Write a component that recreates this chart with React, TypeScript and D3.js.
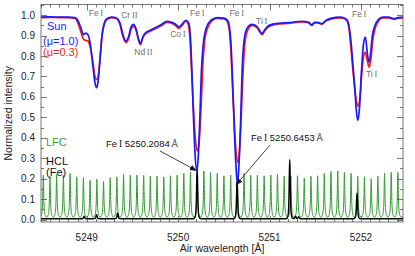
import { Component } from 'react';
import * as d3 from 'd3';

// solar spectrum, disk centre (mu = 1.0): air wavelength [A] / normalized intensity
const sun_wave_mu10 = [
    5248.50, 5248.60, 5248.70, 5248.80, 5248.87, 5248.90, 5248.935, 5248.965, 5248.99, 5249.012,
    5249.035, 5249.068, 5249.09, 5249.107, 5249.123, 5249.145, 5249.167, 5249.19, 5249.22, 5249.275,
    5249.32, 5249.363, 5249.396, 5249.429, 5249.462, 5249.484, 5249.511, 5249.538, 5249.566, 5249.587,
    5249.615, 5249.648, 5249.691, 5249.757, 5249.822, 5249.877, 5249.921, 5249.964, 5250.008, 5250.041,
    5250.085, 5250.115, 5250.135, 5250.152, 5250.168, 5250.184, 5250.205, 5250.222, 5250.238, 5250.254,
    5250.276, 5250.31, 5250.36, 5250.43, 5250.50, 5250.54, 5250.565, 5250.582, 5250.598, 5250.614,
    5250.632, 5250.648, 5250.665, 5250.682, 5250.698, 5250.72, 5250.753, 5250.81, 5250.86, 5250.92,
    5250.95, 5250.995, 5251.10, 5251.21, 5251.35, 5251.43, 5251.46, 5251.495, 5251.525, 5251.57,
    5251.62, 5251.68, 5251.77, 5251.82, 5251.85, 5251.872, 5251.89, 5251.91, 5251.93, 5251.95,
    5251.966, 5251.985, 5252.005, 5252.028, 5252.049, 5252.068, 5252.088, 5252.105, 5252.125, 5252.15,
    5252.19, 5252.24, 5252.30, 5252.355, 5252.41, 5252.46
];
const sun_flux_mu10 = [
    0.990, 0.991, 0.990, 0.990, 0.988, 0.976, 0.940, 0.905, 0.912, 0.905,
    0.870, 0.750, 0.670, 0.645, 0.670, 0.780, 0.900, 0.958, 0.982, 0.990,
    0.987, 0.962, 0.905, 0.873, 0.900, 0.940, 0.955, 0.935, 0.885, 0.860,
    0.895, 0.915, 0.925, 0.940, 0.955, 0.970, 0.966, 0.958, 0.943, 0.955,
    0.975, 0.962, 0.890, 0.710, 0.500, 0.330, 0.240, 0.320, 0.500, 0.720,
    0.860, 0.940, 0.975, 0.988, 0.985, 0.975, 0.930, 0.830, 0.650, 0.450,
    0.270, 0.175, 0.260, 0.450, 0.700, 0.870, 0.935, 0.955, 0.945, 0.910,
    0.930, 0.950, 0.960, 0.963, 0.970, 0.965, 0.952, 0.965, 0.965, 0.958,
    0.975, 0.985, 0.990, 0.985, 0.975, 0.940, 0.876, 0.770, 0.660, 0.530,
    0.485, 0.550, 0.720, 0.860, 0.893, 0.820, 0.770, 0.810, 0.900, 0.945,
    0.978, 0.990, 0.990, 0.983, 0.988, 0.990
];

// solar spectrum towards the limb (mu = 0.3)
const sun_wave_mu03 = [
    5248.50, 5248.60, 5248.70, 5248.80, 5248.87, 5248.90, 5248.935, 5248.965, 5248.99, 5249.012,
    5249.035, 5249.068, 5249.09, 5249.107, 5249.125, 5249.148, 5249.17, 5249.195, 5249.22, 5249.275,
    5249.32, 5249.363, 5249.396, 5249.429, 5249.462, 5249.484, 5249.511, 5249.538, 5249.566, 5249.587,
    5249.615, 5249.648, 5249.691, 5249.757, 5249.822, 5249.877, 5249.921, 5249.964, 5250.008, 5250.041,
    5250.085, 5250.112, 5250.13, 5250.148, 5250.168, 5250.19, 5250.21, 5250.232, 5250.252, 5250.27,
    5250.292, 5250.325, 5250.37, 5250.43, 5250.50, 5250.535, 5250.56, 5250.578, 5250.596, 5250.616,
    5250.634, 5250.652, 5250.67, 5250.69, 5250.71, 5250.732, 5250.765, 5250.81, 5250.86, 5250.92,
    5250.95, 5250.995, 5251.10, 5251.21, 5251.35, 5251.43, 5251.46, 5251.495, 5251.525, 5251.57,
    5251.62, 5251.68, 5251.77, 5251.82, 5251.85, 5251.87, 5251.888, 5251.908, 5251.93, 5251.95,
    5251.968, 5251.99, 5252.01, 5252.03, 5252.048, 5252.07, 5252.09, 5252.11, 5252.13, 5252.155,
    5252.19, 5252.24, 5252.30, 5252.355, 5252.41, 5252.46
];
const sun_flux_mu03 = [
    0.988, 0.989, 0.988, 0.988, 0.985, 0.965, 0.920, 0.882, 0.876, 0.874,
    0.850, 0.770, 0.700, 0.685, 0.700, 0.800, 0.905, 0.958, 0.978, 0.988,
    0.985, 0.955, 0.895, 0.865, 0.890, 0.930, 0.945, 0.930, 0.880, 0.855,
    0.890, 0.910, 0.920, 0.935, 0.950, 0.965, 0.962, 0.952, 0.935, 0.948,
    0.970, 0.955, 0.880, 0.720, 0.540, 0.390, 0.335, 0.390, 0.560, 0.750,
    0.880, 0.940, 0.972, 0.984, 0.982, 0.970, 0.925, 0.820, 0.640, 0.460,
    0.330, 0.280, 0.330, 0.500, 0.720, 0.870, 0.930, 0.950, 0.940, 0.905,
    0.925, 0.945, 0.957, 0.960, 0.967, 0.962, 0.950, 0.962, 0.962, 0.955,
    0.972, 0.982, 0.987, 0.982, 0.970, 0.930, 0.850, 0.750, 0.650, 0.580,
    0.555, 0.600, 0.720, 0.800, 0.818, 0.775, 0.745, 0.790, 0.880, 0.935,
    0.970, 0.986, 0.987, 0.980, 0.985, 0.987
];

// laser frequency comb modes
const lfc_wave = [
    5248.525, 5248.598, 5248.671, 5248.745, 5248.818, 5248.891, 5248.964, 5249.037, 5249.111, 5249.184,
    5249.257, 5249.330, 5249.403, 5249.477, 5249.550, 5249.623, 5249.696, 5249.769, 5249.843, 5249.916,
    5249.989, 5250.062, 5250.135, 5250.209, 5250.282, 5250.355, 5250.428, 5250.501, 5250.575, 5250.648,
    5250.721, 5250.794, 5250.867, 5250.941, 5251.014, 5251.087, 5251.160, 5251.233, 5251.306, 5251.380,
    5251.453, 5251.526, 5251.599, 5251.672, 5251.746, 5251.819, 5251.892, 5251.965, 5252.038, 5252.112,
    5252.185, 5252.258, 5252.331, 5252.404
];
const lfc_peak = [
    0.205, 0.200, 0.208, 0.205, 0.213, 0.197, 0.193, 0.180, 0.185, 0.175,
    0.193, 0.197, 0.208, 0.205, 0.205, 0.205, 0.200, 0.200, 0.197, 0.202,
    0.205, 0.214, 0.219, 0.210, 0.226, 0.219, 0.214, 0.202, 0.205, 0.200,
    0.214, 0.205, 0.205, 0.202, 0.205, 0.209, 0.200, 0.200, 0.202, 0.191,
    0.200, 0.202, 0.214, 0.223, 0.226, 0.219, 0.214, 0.200, 0.197, 0.188,
    0.200, 0.214, 0.219, 0.219
];

// hollow cathode lamp (Fe) emission lines
const hcl_wave = [5248.972, 5249.108, 5249.338, 5250.208, 5250.645, 5251.221, 5251.285, 5251.318, 5251.957];
const hcl_peak = [0.012, 0.020, 0.028, 0.245, 0.180, 0.290, 0.012, 0.010, 0.125];

// identified solar lines
const line_ion = ["Fe", "Cr", "Nd", "Co", "Fe", "Fe", "Ti", "Fe", "Ti"];
const line_stage = ["I", "II", "II", "I", "I", "I", "I", "I", "I"];
const line_wave = [5249.101, 5249.467, 5249.620, 5249.997, 5250.210, 5250.642, 5250.915, 5251.981, 5252.117];

const x_ticks = [5249, 5250, 5251, 5252];
const y_ticks = [0.0, 0.1, 0.2, 0.3, 0.4, 0.5, 0.6, 0.7, 0.8, 0.9, 1.0];


export default class App extends Component {

    svg_node: SVGSVGElement | null = null;

    componentDidMount() {
        this.renderSpectrum();
    }

    renderSpectrum() {

        // constants
        const width = 415;
        const height = 256;
        const left = 41;
        const right = 403;
        const top = 4.5;
        const bottom = 222;
        const font = "'Liberation Sans', Arial, sans-serif";
        const serif = "'Liberation Serif', 'Times New Roman', serif";
        const label_grey = "#707070";

        let svg = d3.select(this.svg_node);
        svg.selectAll("*").remove();
        svg.attr("width", width).attr("height", height);

        // scales
        const x_scale = d3.scaleLinear()
            .domain([5248.5, 5252.46])
            .range([left, right]);

        const y_scale = d3.scaleLinear()
            .domain([-0.012, 1.052])
            .range([bottom, top]);

        svg.append("defs").append("clipPath")
            .attr("id", "plot-clip")
            .append("rect")
            .attr("x", left).attr("y", top)
            .attr("width", right - left).attr("height", bottom - top);

        svg.select("defs").append("marker")
            .attr("id", "arrow-head")
            .attr("viewBox", "0 0 10 10")
            .attr("refX", 9).attr("refY", 5)
            .attr("markerWidth", 7).attr("markerHeight", 7)
            .attr("markerUnits", "userSpaceOnUse")
            .attr("orient", "auto")
            .append("path")
            .attr("d", "M0,1 L10,5 L0,9 z")
            .attr("fill", "#111");

        // emission profile: sum of narrow peaks on a flat base
        const emissionPoints = (centres, heights, base, offsets, factors) => {
            const shape = d3.scaleLinear().domain(offsets).range(factors).clamp(true);
            let xs = [x_scale.domain()[0], x_scale.domain()[1]];
            centres.forEach(function(c) {
                offsets.forEach(function(o) { xs.push(c + o); });
            });
            xs = xs.filter(function(w) { return w >= 5248.5 && w <= 5252.46; });
            xs.sort(function(a, b) { return a - b; });
            return xs.map(function(w) {
                let v = base;
                centres.forEach(function(c, i) { v += heights[i] * shape(w - c); });
                return [w, v];
            });
        };

        const line_gen = d3.line()
            .x(function(d) { return x_scale(d[0]); })
            .y(function(d) { return y_scale(d[1]); })
            .curve(d3.curveMonotoneX);

        let plot = svg.append("g").attr("clip-path", "url(#plot-clip)");

        // LFC comb
        const lfc_points = emissionPoints(lfc_wave, lfc_peak, 0.012,
            [-0.034, -0.024, -0.016, -0.010, -0.006, -0.003, 0, 0.003, 0.006, 0.010, 0.016, 0.024, 0.034],
            [0, 0.03, 0.09, 0.22, 0.45, 0.78, 1, 0.78, 0.45, 0.22, 0.09, 0.03, 0]);
        plot.append("path")
            .attr("d", line_gen(lfc_points))
            .attr("fill", "none")
            .attr("stroke", "#2f9a2f")
            .attr("stroke-width", 1);

        // HCL lines
        const hcl_points = emissionPoints(hcl_wave, hcl_peak, 0.004,
            [-0.04, -0.025, -0.015, -0.009, -0.0045, 0, 0.0045, 0.009, 0.015, 0.025, 0.04],
            [0, 0.02, 0.1, 0.35, 0.75, 1, 0.75, 0.35, 0.1, 0.02, 0]);
        plot.append("path")
            .attr("d", line_gen(hcl_points))
            .attr("fill", "none")
            .attr("stroke", "#000")
            .attr("stroke-width", 1.4);

        // solar spectra
        plot.append("path")
            .attr("d", line_gen(d3.zip(sun_wave_mu03, sun_flux_mu03)))
            .attr("fill", "none")
            .attr("stroke", "#ff1a1a")
            .attr("stroke-width", 1.7);

        plot.append("path")
            .attr("d", line_gen(d3.zip(sun_wave_mu10, sun_flux_mu10)))
            .attr("fill", "none")
            .attr("stroke", "#1a1aff")
            .attr("stroke-width", 1.7);

        // frame and ticks
        const frame_color = "#555";
        let axes = svg.append("g").attr("stroke", frame_color).attr("stroke-width", 0.8);
        axes.append("rect")
            .attr("x", left).attr("y", top)
            .attr("width", right - left).attr("height", bottom - top)
            .attr("fill", "none");

        const x_minor = d3.range(5248.5, 5252.46, 0.1);
        x_minor.forEach(function(w) {
            const is_major = Math.abs(w - Math.round(w)) < 1e-6;
            const len = is_major ? 6 : 3;
            const px = Math.round(x_scale(w)) + 0.5;
            axes.append("line").attr("x1", px).attr("x2", px).attr("y1", bottom).attr("y2", bottom - len);
            axes.append("line").attr("x1", px).attr("x2", px).attr("y1", top).attr("y2", top + len);
        });

        const y_minor = d3.range(0, 1.051, 0.05);
        y_minor.forEach(function(v) {
            const is_major = Math.abs(v * 10 - Math.round(v * 10)) < 1e-6;
            const len = is_major ? 6 : 3;
            const py = Math.round(y_scale(v)) + 0.5;
            axes.append("line").attr("x1", left).attr("x2", left + len).attr("y1", py).attr("y2", py);
            axes.append("line").attr("x1", right).attr("x2", right - len).attr("y1", py).attr("y2", py);
        });

        // tick labels
        svg.selectAll(".x-tick-label")
            .data(x_ticks).enter()
            .append("text")
            .attr("class", "x-tick-label")
            .attr("x", function(d) { return x_scale(d); })
            .attr("y", 241)
            .attr("text-anchor", "middle")
            .style("font-family", font)
            .style("font-size", "10px")
            .attr("fill", "#222")
            .text(function(d) { return d; });

        svg.selectAll(".y-tick-label")
            .data(y_ticks).enter()
            .append("text")
            .attr("class", "y-tick-label")
            .attr("x", 35)
            .attr("y", function(d) { return y_scale(d) + 3.6; })
            .attr("text-anchor", "end")
            .style("font-family", font)
            .style("font-size", "10px")
            .attr("fill", "#222")
            .text(function(d) { return d.toFixed(1); });

        // axis titles
        svg.append("text")
            .attr("x", (left + right) / 2)
            .attr("y", 252)
            .attr("text-anchor", "middle")
            .style("font-family", font)
            .style("font-size", "10.5px")
            .attr("fill", "#222")
            .text("Air wavelength [\u00c5]");

        svg.append("text")
            .attr("transform", "translate(11.5, " + ((top + bottom) / 2) + ") rotate(-90)")
            .attr("text-anchor", "middle")
            .style("font-family", font)
            .style("font-size", "10.5px")
            .attr("fill", "#222")
            .text("Normalized intensity");

        // line identifications
        const label_levels = [1.0, 0.99, 0.81, 0.9, 1.0, 1.0, 0.96, 0.995, 0.7];
        line_ion.forEach(function(ion, i) {
            let t = svg.append("text")
                .attr("x", x_scale(line_wave[i]))
                .attr("y", y_scale(label_levels[i]) + 1)
                .attr("text-anchor", "middle")
                .style("font-family", font)
                .style("font-size", "8.5px")
                .attr("fill", label_grey);
            t.append("tspan").text(ion + "\u2009");
            t.append("tspan").style("font-family", serif).style("font-size", "8.5px").text(line_stage[i]);
        });

        // legend
        const legend = [
            { text: "Sun", color: "#1a1aff", y: 30 },
            { text: "(\u03bc=1.0)", color: "#1a1aff", y: 44.5 },
            { text: "(\u03bc=0.3)", color: "#ff1a1a", y: 55.5 },
            { text: "LFC", color: "#3c9c3c", y: 145.5 },
            { text: "HCL", color: "#111", y: 164.5 },
            { text: "(Fe)", color: "#111", y: 175.5 }
        ];
        legend.forEach(function(d, i) {
            svg.append("text")
                .attr("x", i === 0 ? 47 : (i < 3 ? 43 : 46))
                .attr("y", d.y)
                .style("font-family", font)
                .style("font-size", "11px")
                .attr("fill", d.color)
                .text(d.text);
        });

        // wavelength callouts
        const callouts = [
            { wave: 5250.2084, tx: 106, ty: 147, ax: 160, ay: 151, text: "5250.2084\u2009\u00c5" },
            { wave: 5250.6453, tx: 251, ty: 141, ax: 270, ay: 145, text: "5250.6453\u2009\u00c5" }
        ];
        callouts.forEach(function(c, i) {
            let t = svg.append("text")
                .attr("x", c.tx)
                .attr("y", c.ty)
                .style("font-family", font)
                .style("font-size", "9.5px")
                .attr("fill", "#111");
            t.append("tspan").text("Fe\u2009");
            t.append("tspan").style("font-family", serif).text("I");
            t.append("tspan").text(" " + c.text);

            const tip_y = i === 0 ? y_scale(0.245) + 1 : y_scale(0.175) + 1;
            svg.append("line")
                .attr("x1", c.ax).attr("y1", c.ay)
                .attr("x2", x_scale(c.wave) - 1).attr("y2", tip_y)
                .attr("stroke", "#111")
                .attr("stroke-width", 0.8)
                .attr("marker-end", "url(#arrow-head)");
        });
    }

    render() {
        return (
            <svg
                ref={(node) => { this.svg_node = node; }}
                width={415}
                height={256}
                style={{ position: "absolute", left: 0, top: 0, background: "#fff" }}
            ></svg>
        );
    }

}
